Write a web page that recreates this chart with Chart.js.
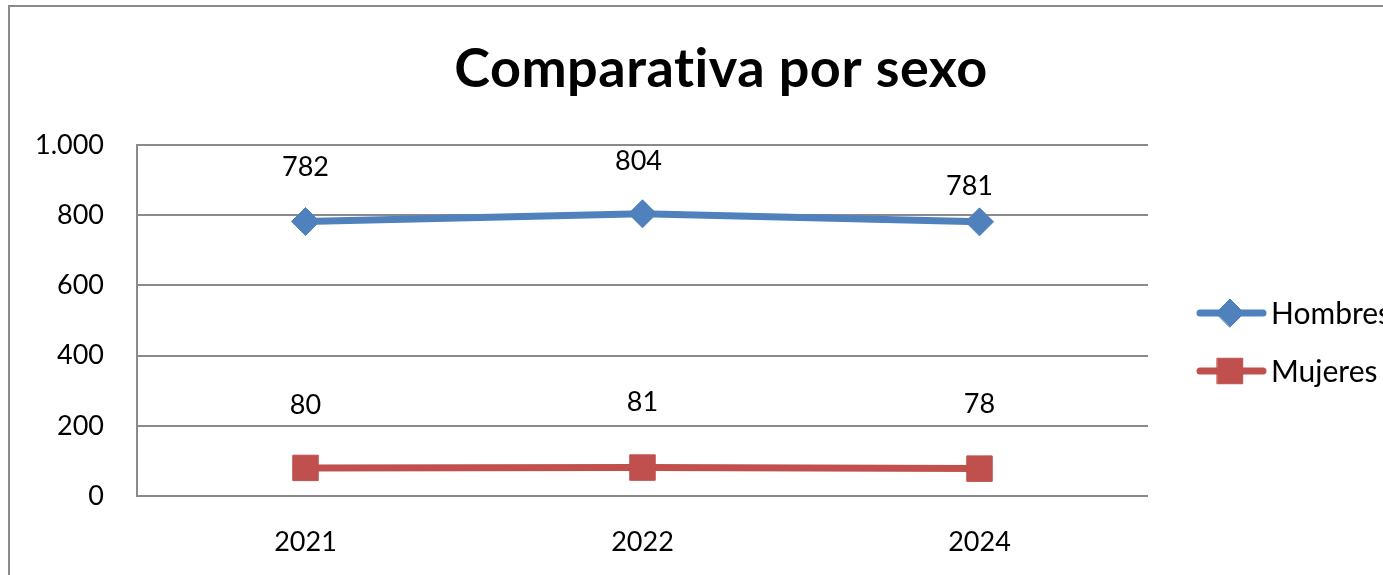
<!DOCTYPE html>
<html>
<head>
<meta charset="utf-8">
<script src="https://cdn.jsdelivr.net/npm/chart.js@4/dist/chart.umd.min.js"></script>
<style>
  html, body { margin: 0; padding: 0; background: #fff; }
  #wrap { width: 1383px; height: 575px; }
</style>
</head>
<body>
<div id="wrap"><canvas id="chartSexo" width="1383" height="575"></canvas></div>
<script>
var titulo = 'Comparativa por sexo';
var anios = ['2021', '2022', '2024'];
var hombres = [782, 804, 781];
var mujeres = [80, 81, 78];
var ticksY = [0, 200, 400, 600, 800, 1000];

var fuente = 'Lato, "Open Sans", sans-serif';

// where the value labels sit relative to each point (dx, dy)
var desplHombres = [[0, -54], [-4, -52], [-10, -36]];
var desplMujeres = [[0, -63], [0, -65], [0, -64]];

function miles(v) {
    return String(v).replace(/\B(?=(\d{3})+(?!\d))/g, '.');
}

// outer chart border (runs off the right/bottom like the screenshot) + title
var marco = {
    id: 'marco',
    beforeDraw: function (chart) {
        var c = chart.ctx;
        c.save();
        c.fillStyle = '#fff';
        c.fillRect(0, 0, chart.width, chart.height);
        c.strokeStyle = '#8a8a8a';
        c.lineWidth = 2;
        c.strokeRect(9, 6, 1450, 650);
        // title sits a bit right of the canvas centre in the original
        c.fillStyle = '#000';
        c.font = 'bold 54px ' + fuente;
        if ('letterSpacing' in c) c.letterSpacing = '0.5px'; // no "ti" ligature
        c.textAlign = 'center';
        c.textBaseline = 'middle';
        c.fillText(titulo, 721, 70);
        c.restore();
    }
};

var etiquetas = {
    id: 'etiquetas',
    afterDatasetsDraw: function (chart) {
        var c = chart.ctx;
        var despl = [desplHombres, desplMujeres];
        c.save();
        c.font = '27px ' + fuente;
        c.fillStyle = '#000';
        c.textAlign = 'center';
        c.textBaseline = 'middle';
        chart.data.datasets.forEach(function (ds, i) {
            chart.getDatasetMeta(i).data.forEach(function (p, j) {
                c.fillText(ds.data[j], p.x + despl[i][j][0], p.y + despl[i][j][1]);
            });
        });
        c.restore();
    }
};

var leyenda = {
    id: 'leyenda',
    afterDraw: function (chart) {
        var c = chart.ctx;
        var ys = [313, 371];
        c.save();
        chart.data.datasets.forEach(function (ds, i) {
            var y = ys[i];
            c.strokeStyle = ds.borderColor;
            c.lineWidth = 7;
            c.lineCap = 'round';
            c.beginPath();
            c.moveTo(1200, y);
            c.lineTo(1263, y);
            c.stroke();
            c.fillStyle = ds.backgroundColor;
            c.strokeStyle = ds.backgroundColor;
            c.lineWidth = 1;
            Chart.helpers.drawPoint(c, { pointStyle: ds.pointStyle, radius: ds.pointRadius, rotation: 0, borderWidth: 1 }, 1230, y);
            c.fillStyle = '#000';
            c.font = '30px ' + fuente;
            c.textAlign = 'left';
            c.textBaseline = 'middle';
            c.fillText(ds.label, 1271, y + 1);
        });
        c.restore();
    }
};

var ctxSexo = document.getElementById('chartSexo').getContext('2d');
var chartSexo = new Chart(ctxSexo, {
    type: 'line',
    data: {
        labels: anios,
        datasets: [{
            label: 'Hombres',
            data: hombres,
            borderColor: '#4F81BD',
            backgroundColor: '#4F81BD',
            borderWidth: 7,
            pointStyle: 'rectRot',
            pointRadius: 14,
            pointBorderWidth: 1,
            tension: 0
        }, {
            label: 'Mujeres',
            data: mujeres,
            borderColor: '#C0504D',
            backgroundColor: '#C0504D',
            borderWidth: 7,
            pointStyle: 'rect',
            pointRadius: 18,
            pointBorderWidth: 1,
            tension: 0
        }]
    },
    options: {
        responsive: false,
        animation: false,
        events: [],
        layout: { padding: { left: 0, right: 235, top: 145, bottom: 0 } },
        plugins: {
            legend: { display: false },
            tooltip: { enabled: false },
            title: { display: false }
        },
        scales: {
            x: {
                offset: true,
                grid: { display: false, drawTicks: false },
                border: { display: false },
                ticks: {
                    color: '#000',
                    padding: 30,
                    font: { family: fuente, size: 27 }
                },
                afterFit: function (s) { s.height = 79; }
            },
            y: {
                min: 0,
                max: 1000,
                afterBuildTicks: function (s) {
                    s.ticks = ticksY.map(function (v) { return { value: v }; });
                },
                grid: { color: '#8a8a8a', lineWidth: 2, drawTicks: false },
                border: { display: true, color: '#8a8a8a', width: 2 },
                ticks: {
                    color: '#000',
                    padding: 33,
                    font: { family: fuente, size: 27 },
                    callback: function (v) { return miles(v); }
                },
                afterFit: function (s) { s.width = 137; }
            }
        }
    },
    plugins: [marco, etiquetas, leyenda]
});
</script>
</body>
</html>
